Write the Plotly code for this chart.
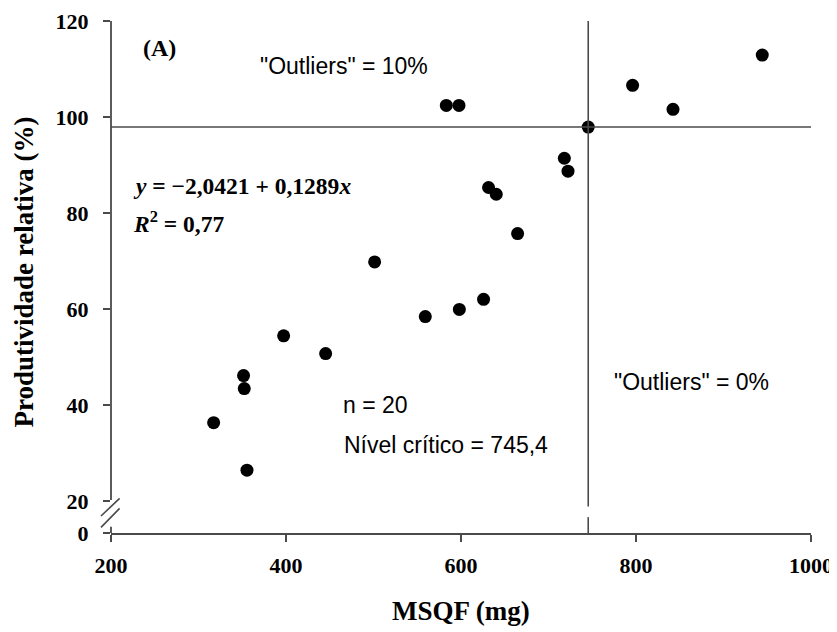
import plotly.graph_objects as go

# Data
msqf = [583.2, 597.7, 745.4, 796.1, 842.3, 718.1, 722.3, 631.5, 640.3, 664.7,
        625.8, 598.1, 559.2, 944.3, 501.3, 397.3, 445.3, 351.5, 352.3, 317.3, 355.4]
prod_rel = [102.5, 102.5, 98.0, 106.7, 101.7, 91.5, 88.8, 85.4, 84.0, 75.8,
            62.1, 60.0, 58.5, 113.0, 69.9, 54.5, 50.8, 46.2, 43.5, 36.4, 26.5]

critical_level = 745.4
critical_yield = 98.0

x_ticks = [200, 400, 600, 800, 1000]
y_tick_vals = [13.4, 20, 40, 60, 80, 100, 120]
y_tick_text = ["0", "20", "40", "60", "80", "100", "120"]

X_MIN, X_MAX = 200, 1000
Y_MIN, Y_MAX = 13.4, 120.1

SERIF = "Liberation Serif, Times New Roman, serif"
SANS = "Liberation Sans, Arial, sans-serif"
LINE_COL = "#4a4a4a"

fig = go.Figure()
fig.add_trace(go.Scatter(
    x=msqf, y=prod_rel, mode="markers",
    marker=dict(color="black", size=13, line=dict(width=0)),
    showlegend=False, cliponaxis=False,
))

shapes = []
# horizontal critical yield line
shapes.append(dict(type="line", xref="x", yref="y", x0=X_MIN, x1=X_MAX,
                   y0=critical_yield, y1=critical_yield,
                   line=dict(color=LINE_COL, width=1.6)))
# vertical critical level line (with break gap)
shapes.append(dict(type="line", xref="x", yref="y", x0=critical_level, x1=critical_level,
                   y0=Y_MAX, y1=18.9, line=dict(color=LINE_COL, width=1.6)))
shapes.append(dict(type="line", xref="x", yref="y", x0=critical_level, x1=critical_level,
                   y0=16.7, y1=Y_MIN, line=dict(color=LINE_COL, width=1.6)))
# y axis line with break
shapes.append(dict(type="line", xref="paper", yref="y", x0=0, x1=0,
                   y0=Y_MAX, y1=20.3, line=dict(color=LINE_COL, width=1.8)))
shapes.append(dict(type="line", xref="paper", yref="y", x0=0, x1=0,
                   y0=14.7, y1=Y_MIN, line=dict(color=LINE_COL, width=1.8)))
# break slashes
shapes.append(dict(type="line", xref="paper", yref="y", x0=-0.0143, x1=0.0123,
                   y0=16.94, y1=20.6, line=dict(color=LINE_COL, width=1.6)))
shapes.append(dict(type="line", xref="paper", yref="y", x0=-0.0143, x1=0.0123,
                   y0=14.58, y1=18.54, line=dict(color=LINE_COL, width=1.6)))

annotations = [
    dict(text="<b>(A)</b>", x=0.043, y=0.948, xref="paper", yref="paper",
         xanchor="left", yanchor="middle", showarrow=False,
         font=dict(family=SERIF, size=24, color="black")),
    dict(text='"Outliers" = 10%', x=0.333, y=0.912, xref="paper", yref="paper",
         xanchor="center", yanchor="middle", showarrow=False,
         font=dict(family=SANS, size=23, color="black")),
    dict(text="<b><i>y</i> = −2,0421 + 0,1289<i>x</i></b>", x=0.029, y=0.678, xref="paper", yref="paper",
         xanchor="left", yanchor="middle", showarrow=False,
         font=dict(family=SERIF, size=23.5, color="black")),
    dict(text="<b><i>R</i><sup>2</sup> = 0,77</b>", x=0.029, y=0.607, xref="paper", yref="paper",
         xanchor="left", yanchor="middle", showarrow=False,
         font=dict(family=SERIF, size=23.5, color="black")),
    dict(text="n = 20", x=0.329, y=0.250, xref="paper", yref="paper",
         xanchor="left", yanchor="middle", showarrow=False,
         font=dict(family=SANS, size=23, color="black")),
    dict(text="Nível crítico = 745,4", x=0.330, y=0.172, xref="paper", yref="paper",
         xanchor="left", yanchor="middle", showarrow=False,
         font=dict(family=SANS, size=23, color="black")),
    dict(text='"Outliers" = 0%', x=0.715, y=0.295, xref="paper", yref="paper",
         xanchor="left", yanchor="middle", showarrow=False,
         font=dict(family=SANS, size=23, color="black")),
    dict(text="<b>MSQF (mg)</b>", x=0.5, y=-0.152, xref="paper", yref="paper",
         xanchor="center", yanchor="middle", showarrow=False,
         font=dict(family=SERIF, size=27, color="black")),
    dict(text="<b>Produtividade relativa (%)</b>", x=-0.124, y=0.509, xref="paper", yref="paper",
         xanchor="center", yanchor="middle", showarrow=False, textangle=-90,
         font=dict(family=SERIF, size=27, color="black")),
]

fig.update_layout(
    width=829, height=624, autosize=False,
    margin=dict(l=103, r=26, t=13, b=99, pad=0, autoexpand=False),
    paper_bgcolor="white", plot_bgcolor="white",
    shapes=shapes, annotations=annotations,
    showlegend=False,
)
fig.update_xaxes(
    range=[X_MIN, X_MAX], tickvals=x_ticks, ticktext=[str(v) for v in x_ticks],
    showgrid=False, zeroline=False, showline=True, linecolor=LINE_COL, linewidth=1.8,
    ticks="outside", ticklen=7, tickwidth=1.6, tickcolor=LINE_COL, automargin=False,
    tickfont=dict(family=SERIF, size=22, color="black", weight="bold"), ticklabelstandoff=5,
)
fig.update_yaxes(
    range=[Y_MIN, Y_MAX], tickvals=y_tick_vals, ticktext=y_tick_text,
    showgrid=False, zeroline=False, showline=False, automargin=False,
    ticks="outside", ticklen=7, tickwidth=1.6, tickcolor=LINE_COL,
    tickfont=dict(family=SERIF, size=22, color="black", weight="bold"), ticklabelstandoff=10,
)

fig.write_html("out.html")
